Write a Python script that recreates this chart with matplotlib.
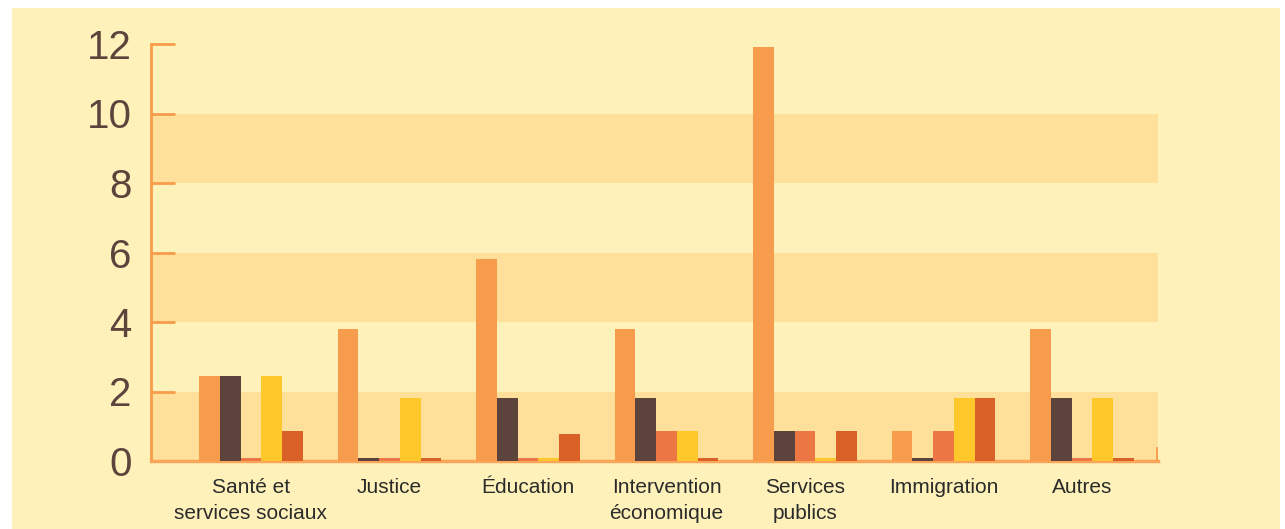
import matplotlib
matplotlib.use("Agg")
import matplotlib.pyplot as plt
import numpy as np
from matplotlib.patches import Rectangle

categories = ["Santé et\nservices sociaux", "Justice", "Éducation", "Intervention\néconomique",
              "Services\npublics", "Immigration", "Autres"]
series1 = [2.45, 3.8, 5.8, 3.8, 11.9, 0.86, 3.8]
series2 = [2.45, 0.1, 1.8, 1.8, 0.86, 0.1, 1.8]
series3 = [0.1, 0.1, 0.1, 0.86, 0.86, 0.86, 0.1]
series4 = [2.45, 1.8, 0.1, 0.86, 0.1, 1.8, 1.8]
series5 = [0.86, 0.1, 0.78, 0.1, 0.86, 1.8, 0.1]
yticks = [0, 2, 4, 6, 8, 10, 12]

colors = ["#F79C4C", "#5C433C", "#EC7745", "#FEC72A", "#D96127"]
bg = "#FEF2BA"
band = "#FEE09A"
axis_col = "#F89C4B"
fam = ["Liberation Sans", "DejaVu Sans"]

W, H = 1285, 529
fig = plt.figure(figsize=(W / 100, H / 100), dpi=100)
fig.patch.set_facecolor("white")
fig.patches.append(Rectangle((12 / W, 0), (1280 - 12) / W, (H - 8) / H,
                             transform=fig.transFigure, facecolor=bg, edgecolor="none", zorder=-5))

ax = fig.add_axes([151 / W, (H - 461) / H, (1158 - 151) / W, (461 - 44) / H])
ax.set_facecolor("none")
for lo in (0, 4, 8):
    ax.axhspan(lo, lo + 2, color=band, zorder=0, lw=0)

x = np.arange(len(categories))
bw = 0.15
all_series = [series1, series2, series3, series4, series5]
for i, (s, c) in enumerate(zip(all_series, colors)):
    ax.bar(x + (i - 2) * bw, s, width=bw, color=c, zorder=3, linewidth=0)

ax.set_xlim(-0.722, 6.549)
ax.set_ylim(0, 12)

for sp in ("top", "right"):
    ax.spines[sp].set_visible(False)
ax.spines["left"].set_color(axis_col)
ax.spines["left"].set_linewidth(2)
ax.spines["bottom"].set_color("#F9A65A")
ax.spines["bottom"].set_linewidth(2.5)
ax.axvline(6.545, ymin=0, ymax=0.03, color=axis_col, lw=2, zorder=4)

ax.set_yticks(yticks)
ax.set_yticklabels([str(v) for v in yticks], fontsize=29, color="#5C433C", family=fam)
ax.tick_params(axis="y", direction="in", length=17, width=2, color=axis_col, pad=14)
ax.set_xticks(x)
ax.set_xticklabels(categories, fontsize=15, color="#2B2B2B", family=fam, linespacing=1.5)
ax.tick_params(axis="x", length=0, pad=12)

fig.savefig("out.png", dpi=100, facecolor=fig.get_facecolor())
